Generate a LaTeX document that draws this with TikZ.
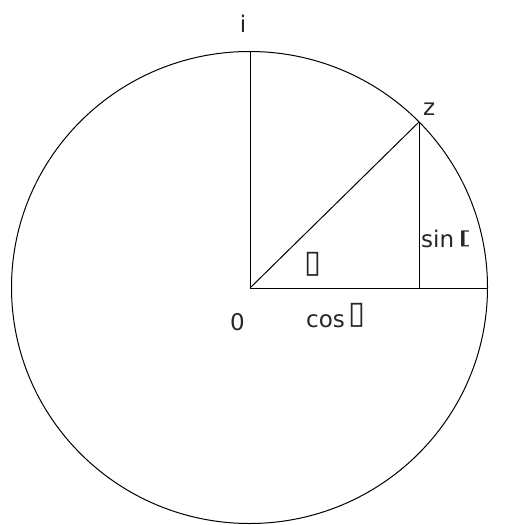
\documentclass[tikz,border=0pt]{standalone}
\usepackage{fontspec}
\setmainfont{DejaVu Sans}
\usepackage{tikz}
\usetikzlibrary{positioning,calc}
\newcommand{\tofu}[2]{\resizebox*{#1}{#2}{\raisebox{\depth}{▯}}}
\tikzset{
  edge/.style={draw=black,line width=1pt},
  lbl/.style={inner sep=0pt,font=\fontsize{23}{27}\selectfont,text=black!85}
}
\begin{document}
\begin{tikzpicture}[x=1pt,y=-1pt]
    \useasboundingbox (0,0) rectangle (506,525);
    \coordinate (c) at (249.5,287.5);
    \coordinate (o) at (250,288);
    \coordinate (i) at (250,51.5);
    \coordinate (z) at (419,122);
    \coordinate (f) at (419,288);
    \coordinate (e) at (487.5,288);
    \draw[edge] (c) ellipse [x radius=238,y radius=236];
    \foreach \a/\b in {o/i,o/z,o/e,z/f}{\draw[edge] (\a) -- (\b);}
    \node[lbl,anchor=base] (li) at (243,32) {i};
    \node[lbl,anchor=base west] (lz) at (423,115) {z};
    \node[lbl,anchor=base west] (lo) at (230,330) {0};
    \node[lbl,anchor=base west] (lc) at (306,327) {cos\,\tofu{17pt}{24pt}};
    \node[lbl,anchor=base west] (ls) at (421,247) {sin\,\resizebox*{15pt}{16pt}{\raisebox{\depth}{[}}};
    \node[lbl,anchor=center] (lt) at (313,264) {\tofu{17pt}{24pt}};
\end{tikzpicture}
\end{document}
